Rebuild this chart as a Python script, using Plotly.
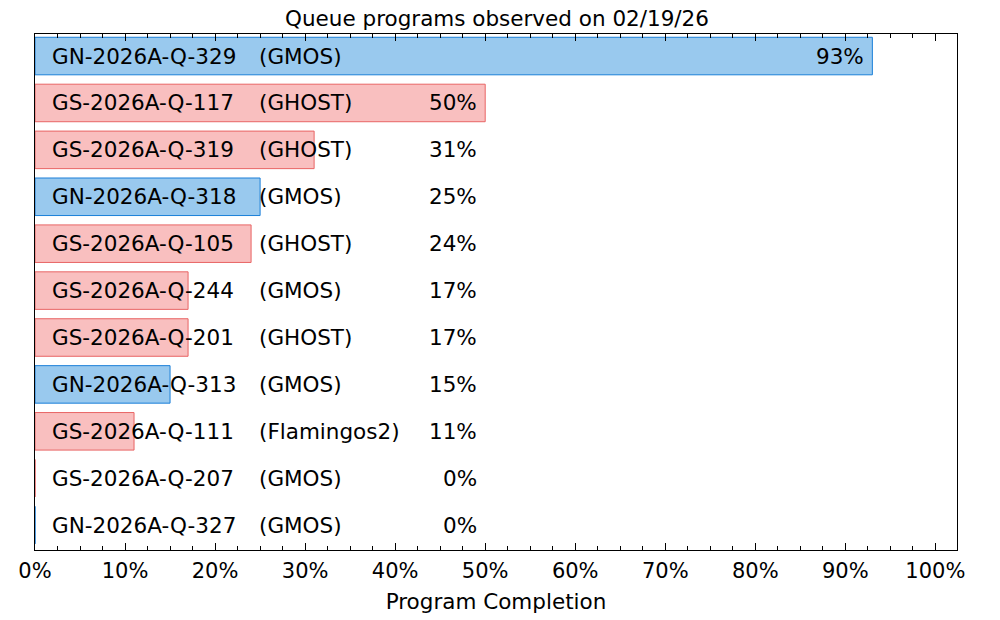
import plotly.graph_objects as go

programs = ["GN-2026A-Q-329", "GS-2026A-Q-117", "GS-2026A-Q-319", "GN-2026A-Q-318",
            "GS-2026A-Q-105", "GS-2026A-Q-244", "GS-2026A-Q-201", "GN-2026A-Q-313",
            "GS-2026A-Q-111", "GS-2026A-Q-207", "GN-2026A-Q-327"]
instruments = ["GMOS", "GHOST", "GHOST", "GMOS", "GHOST", "GMOS", "GHOST", "GMOS",
               "Flamingos2", "GMOS", "GMOS"]
completion = [93, 50, 31, 25, 24, 17, 17, 15, 11, 0, 0]
tick_vals = [0, 10, 20, 30, 40, 50, 60, 70, 80, 90, 100]
tick_text = [f"{v}%" for v in tick_vals]

FONT = "DejaVu Sans"
TXT = 21.5
BLUE_FILL, BLUE_LINE = "#99c9ee", "#1a7fd8"
PINK_FILL, PINK_LINE = "#f9bfbf", "#e86464"

fills = [BLUE_FILL if p.startswith("GN") else PINK_FILL for p in programs]
lines = [BLUE_LINE if p.startswith("GN") else PINK_LINE for p in programs]
ypos = list(range(len(programs)))

fig = go.Figure()
fig.add_trace(go.Bar(
    x=completion, y=ypos, orientation="h", width=0.8,
    marker=dict(color=fills, line=dict(color=lines, width=1)),
    hoverinfo="skip", showlegend=False,
))

annotations = []
for i, (p, ins, v) in enumerate(zip(programs, instruments, completion)):
    annotations.append(dict(x=0, y=i, xref="x", yref="y", text=p, showarrow=False,
                            xanchor="left", xshift=15, font=dict(family=FONT, size=TXT, color="black")))
    annotations.append(dict(x=0, y=i, xref="x", yref="y", text=f"({ins})", showarrow=False,
                            xanchor="left", xshift=222, font=dict(family=FONT, size=TXT, color="black")))
    annotations.append(dict(x=max(v, 50), y=i, xref="x", yref="y", text=f"{v}%", showarrow=False,
                            xanchor="right", xshift=-6, font=dict(family=FONT, size=TXT, color="black")))

fig.update_layout(
    width=1000, height=620,
    margin=dict(l=35, r=43, t=34, b=70),
    paper_bgcolor="white", plot_bgcolor="white",
    title=dict(text="Queue programs observed on 02/19/26", x=0.497, xanchor="center",
               y=1 - 18 / 620, yanchor="middle", font=dict(family=FONT, size=TXT, color="black")),
    font=dict(family=FONT, size=21, color="black"),
    annotations=annotations,
    xaxis=dict(range=[0, 102.4], tickmode="array", tickvals=tick_vals, ticktext=tick_text,
               ticks="inside", ticklen=7, tickwidth=1, tickcolor="black", ticklabelstandoff=2,
               minor=dict(dtick=2.5, ticks="inside", ticklen=4, tickcolor="black", tickwidth=1, showgrid=False),
               showline=True, linecolor="black", linewidth=1, mirror="ticks",
               showgrid=False, zeroline=False, automargin=False,
               tickfont=dict(family=FONT, size=21, color="black"),
               title=dict(text="Program Completion", font=dict(family=FONT, size=TXT, color="black"), standoff=11)),
    yaxis=dict(range=[10.53, -0.47], showticklabels=False, ticks="",
               showline=True, linecolor="black", linewidth=1, mirror=True,
               showgrid=False, zeroline=False, automargin=False),
)

fig.write_html("out.html", config={"displayModeBar": False},
               post_script="document.body.style.margin='0';")
